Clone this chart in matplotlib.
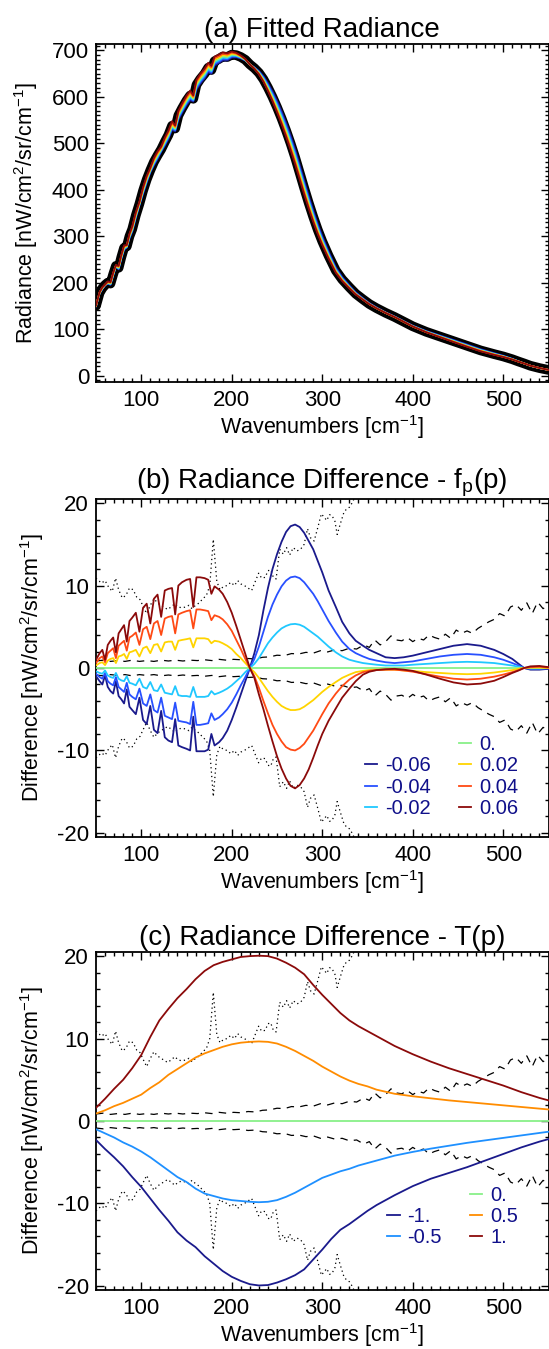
import numpy as np
import matplotlib
matplotlib.use('Agg')
import matplotlib.pyplot as plt
from matplotlib.ticker import MultipleLocator
from matplotlib.lines import Line2D

plt.rcParams['font.family'] = ['Liberation Sans', 'DejaVu Sans']
plt.rcParams['mathtext.fontset'] = 'custom'
plt.rcParams['mathtext.rm'] = 'Liberation Sans'
plt.rcParams['mathtext.it'] = 'Liberation Sans:italic'
plt.rcParams['mathtext.default'] = 'regular'
plt.rcParams['axes.unicode_minus'] = False

# ---------------- data ----------------
wn = [50, 54, 57, 60, 63, 66, 69, 72, 75, 78, 81, 84, 87, 90, 94, 98, 102, 106, 110, 114,
      118, 122, 126, 130, 134, 137.5, 141, 145, 150, 154, 157.5, 161, 165, 170, 174, 177.5,
      181, 186, 190, 195, 200, 205, 210, 215, 220,
      225, 230, 235, 240, 245, 250, 255, 260, 265, 270, 275, 280, 285, 290, 295, 300, 307,
      315, 322, 330, 337, 345, 352, 360, 370, 380, 390, 400, 415, 430, 445, 460, 475, 490,
      500, 510, 517, 523, 530, 540, 550]

radiance = [150, 178, 188, 195, 200, 198, 218, 236, 232, 255, 275, 278, 300, 315, 345, 370,
            398, 422, 442, 460, 474, 487, 503, 518, 538, 532, 560, 575, 592, 603, 596, 626,
            638, 650, 663, 658, 677, 682, 687, 686, 691, 690, 686, 680, 670,
            662, 652, 638, 620, 600, 578, 554, 528, 500, 470, 437, 404, 372, 342, 314, 289,
            258, 226, 207, 190, 176, 164, 154, 145, 135, 126, 116, 106, 94, 84, 74, 64, 54,
            46, 41, 35, 30, 26, 21, 16, 12]

fp_labels = ['-0.06', '-0.04', '-0.02', '0.', '0.02', '0.04', '0.06']
fp_m006 = [-1.0, -1.6, -2.0, -0.9, -2.3, -2.8, -3.1, -1.6, -3.4, -3.8, -4.3, -2.6, -4.7, -5.1,
           -5.6, -3.6, -6.3, -6.8, -4.6, -7.5, -7.9, -5.2, -8.4, -8.8, -9.0, -6.2, -9.4, -9.6,
           -9.8, -10.0, -5.9, -10.1, -10.1, -10.1, -9.9, -8.0, -9.4, -9.0, -8.5, -7.6, -6.3,
           -4.8, -3.2, -1.6, 0.0,
           1.8, 4.0, 7.0, 9.7, 12.0, 13.8, 15.3, 16.5, 17.2, 17.4, 17.1, 16.4, 15.4, 14.4,
           13.0, 11.6, 9.4, 7.4, 5.6, 4.2, 3.3, 2.7, 2.2, 1.8, 1.3, 1.2, 1.3, 1.5, 1.9, 2.3,
           2.7, 2.9, 2.7, 2.2, 1.7, 1.1, 0.5, 0.0, -0.2, -0.2, -0.1]
fp_m004 = [-0.7, -1.1, -1.3, -0.6, -1.6, -1.9, -2.1, -1.1, -2.3, -2.6, -2.9, -1.8, -3.2, -3.5,
           -3.8, -2.5, -4.3, -4.6, -3.2, -5.1, -5.4, -3.6, -5.8, -6.0, -6.2, -4.2, -6.4, -6.5,
           -6.6, -6.8, -4.1, -6.9, -6.9, -6.8, -6.7, -5.5, -6.3, -6.0, -5.6, -5.0, -4.2,
           -3.2, -2.1, -1.1, 0.0,
           1.1, 2.6, 4.4, 6.2, 7.7, 8.9, 9.9, 10.6, 11.0, 11.1, 10.9, 10.4, 9.7, 9.0, 8.1,
           7.1, 5.7, 4.3, 3.2, 2.3, 1.8, 1.4, 1.1, 0.9, 0.7, 0.6, 0.7, 0.8, 1.1, 1.4, 1.6,
           1.7, 1.6, 1.3, 1.0, 0.6, 0.3, 0.0, -0.1, -0.1, -0.05]
fp_m002 = [-0.4, -0.6, -0.7, -0.3, -0.9, -1.1, -1.2, -0.6, -1.3, -1.5, -1.6, -1.0, -1.8, -1.9,
           -2.1, -1.3, -2.3, -2.5, -1.7, -2.7, -2.8, -2.0, -3.0, -3.1, -3.2, -2.2, -3.3, -3.4,
           -3.4, -3.5, -2.3, -3.5, -3.5, -3.5, -3.4, -2.8, -3.2, -3.0, -2.8, -2.5, -2.1,
           -1.6, -1.1, -0.5, 0.0,
           0.5, 1.2, 2.1, 3.0, 3.7, 4.3, 4.8, 5.1, 5.3, 5.35, 5.25, 5.0, 4.6, 4.2, 3.8, 3.3,
           2.6, 1.9, 1.4, 1.0, 0.8, 0.6, 0.5, 0.4, 0.3, 0.3, 0.3, 0.4, 0.5, 0.6, 0.7, 0.75,
           0.7, 0.6, 0.45, 0.3, 0.15, 0.0, -0.05, -0.05, 0.0]
fp_0 = [0.0] * 86
fp_p002 = [0.3, 0.6, 0.7, 0.35, 0.9, 1.1, 1.2, 0.6, 1.4, 1.5, 1.7, 1.1, 1.9, 2.0, 2.2, 1.4,
           2.4, 2.6, 1.8, 2.8, 2.9, 2.0, 3.1, 3.2, 3.2, 2.2, 3.3, 3.4, 3.5, 3.6, 2.5, 3.6,
           3.6, 3.6, 3.5, 3.0, 3.3, 3.2, 3.0, 2.7, 2.3, 1.7, 1.2, 0.6, 0.0,
           -0.5, -1.2, -2.0, -2.8, -3.5, -4.1, -4.6, -4.9, -5.1, -5.1, -5.0, -4.7, -4.3, -3.9,
           -3.4, -2.9, -2.3, -1.7, -1.2, -0.8, -0.5, -0.35, -0.25, -0.2, -0.2, -0.2, -0.3,
           -0.35, -0.5, -0.6, -0.7, -0.75, -0.7, -0.55, -0.4, -0.25, -0.1, 0.0, 0.05, 0.05, 0.0]
fp_p004 = [0.6, 1.2, 1.4, 0.7, 1.8, 2.1, 2.4, 1.2, 2.7, 3.0, 3.3, 2.1, 3.7, 3.9, 4.3, 2.8,
           4.7, 5.0, 3.5, 5.4, 5.7, 4.0, 6.0, 6.2, 6.3, 4.2, 6.5, 6.7, 6.9, 7.0, 4.8, 7.1,
           7.1, 7.0, 6.9, 5.8, 6.4, 6.2, 5.9, 5.3, 4.5, 3.4, 2.3, 1.1, 0.0,
           -1.0, -2.4, -4.0, -5.5, -6.9, -8.0, -8.9, -9.6, -9.9, -10.0, -9.7, -9.2, -8.4,
           -7.6, -6.6, -5.6, -4.3, -3.1, -2.2, -1.4, -0.9, -0.5, -0.35, -0.25, -0.2, -0.2,
           -0.3, -0.45, -0.75, -1.05, -1.3, -1.4, -1.3, -1.05, -0.8, -0.5, -0.25, 0.0, 0.1,
           0.15, 0.05]
fp_p006 = [1.0, 1.8, 2.2, 1.0, 2.8, 3.3, 3.7, 1.9, 4.2, 4.7, 5.2, 3.2, 5.7, 6.1, 6.7, 4.4,
           7.3, 7.8, 5.4, 8.4, 8.9, 6.2, 9.4, 9.6, 9.7, 6.5, 10.0, 10.4, 10.7, 10.8, 7.4,
           11.0, 11.0, 10.9, 10.7, 9.0, 9.9, 9.5, 9.0, 8.0, 6.7, 5.1, 3.4, 1.7, 0.0,
           -1.2, -3.2, -5.0, -7.0, -8.9, -10.7, -12.2, -13.4, -14.3, -14.6, -14.2, -13.4,
           -12.3, -10.9, -9.4, -8.0, -6.4, -4.9, -3.6, -2.5, -1.6, -0.8, -0.45, -0.25, -0.15,
           -0.1, -0.2, -0.35, -0.8, -1.3, -1.75, -2.0, -1.9, -1.55, -1.1, -0.6, -0.3, 0.0,
           0.2, 0.25, 0.1]

wn_c = [50, 60, 70, 80, 90, 100, 110, 120, 130, 140, 150, 160, 170, 180, 190, 200, 210, 220,
        230, 240, 250, 260, 270, 280, 290, 300, 310, 320, 330, 340, 350, 360, 380, 400, 420,
        440, 460, 480, 500, 520, 540, 550]
t_labels = ['-1.', '-0.5', '0.', '0.5', '1.']
t_m1 = [-2.3, -3.4, -4.4, -5.5, -6.8, -8.0, -9.4, -10.8, -12.1, -13.5, -14.5, -15.3, -16.4,
        -17.3, -18.2, -18.9, -19.4, -19.8, -19.95, -19.9, -19.6, -19.2, -18.7, -18.0, -16.8,
        -15.6, -14.3, -13.2, -12.5, -11.7, -10.9, -10.2, -9.0, -7.9, -7.0, -6.3, -5.6, -4.8,
        -4.0, -3.2, -2.5, -2.2]
t_m05 = [-1.0, -1.5, -2.0, -2.6, -3.1, -3.7, -4.4, -5.2, -6.0, -6.8, -7.4, -8.2, -8.8, -9.1,
         -9.4, -9.6, -9.7, -9.8, -9.85, -9.8, -9.6, -9.2, -8.7, -8.1, -7.5, -6.9, -6.5, -6.1,
         -5.8, -5.4, -5.1, -4.8, -4.2, -3.75, -3.35, -3.0, -2.65, -2.35, -2.05, -1.75, -1.45,
         -1.3]
t_0 = [0.0] * 42
t_p05 = [0.9, 1.3, 1.8, 2.2, 2.7, 3.2, 4.0, 4.7, 5.6, 6.3, 7.0, 7.7, 8.2, 8.6, 9.0, 9.3, 9.5,
         9.6, 9.65, 9.6, 9.4, 9.0, 8.5, 7.9, 7.3, 6.6, 6.0, 5.4, 4.9, 4.5, 4.2, 3.8, 3.3, 3.0,
         2.75, 2.5, 2.3, 2.1, 1.9, 1.7, 1.5, 1.4]
t_p1 = [1.6, 2.7, 3.9, 5.0, 6.4, 8.0, 10.2, 12.2, 13.6, 14.9, 16.0, 17.2, 18.2, 18.9, 19.3,
        19.6, 19.9, 20.0, 20.05, 20.0, 19.7, 19.2, 18.6, 17.8, 16.5, 15.3, 14.2, 13.1, 12.2,
        11.5, 10.9, 10.3, 9.1, 8.1, 7.2, 6.4, 5.7, 5.0, 4.3, 3.5, 2.8, 2.5]

wn_dot = [50, 52, 56, 60, 64, 68, 71.6, 75, 79, 83, 87, 91, 95, 98.6, 102, 106, 110, 114, 118,
          121.7, 125, 129, 133, 137, 141, 145, 149, 152.6, 156, 160, 164, 168, 172, 175.7,
          179.6, 183.5, 187, 191, 195, 199, 203, 206.6, 210, 214, 218, 222, 226, 229.7, 233,
          237, 240, 243, 246, 249, 253, 257, 260.6, 264, 268, 272, 276, 280, 283.7, 287, 291,
          295, 299, 302, 305, 308, 310.7, 314, 316.5, 320, 324, 327, 330, 334, 338, 345]
noise_dot = [10.9, 10.7, 10.3, 10.6, 9.8, 9.3, 10.9, 9.5, 8.5, 8.8, 9.7, 9.5, 8.6, 8.3, 7.5,
             6.6, 7.6, 8.4, 7.9, 7.6, 7.4, 7.1, 7.4, 7.8, 7.4, 7.3, 7.4, 7.6, 7.2, 7.6, 7.9,
             8.4, 8.8, 10.0, 15.6, 10.5, 9.5, 9.9, 10.0, 10.4, 10.0, 10.6, 10.2, 10.0, 9.7,
             9.4, 10.5, 11.5, 10.9, 11.0, 11.8, 11.9, 11.0, 10.8, 14.4, 13.8, 14.6, 13.7,
             14.6, 14.2, 14.4, 15.0, 16.9, 15.8, 15.4, 17.0, 18.7, 18.3, 17.9, 18.6, 18.5,
             17.8, 16.2, 17.5, 18.9, 19.3, 19.5, 20.2, 21.5, 23.0]

wn_dash = [50, 58, 66, 74, 82, 90, 98, 106, 114, 122, 130, 138, 146, 154, 162, 170, 178, 186,
           194, 202, 210, 218, 226, 234, 242, 250, 258, 266, 274, 282, 290, 298, 306, 314,
           322, 330, 338, 346, 352, 358, 364, 370, 376, 382, 388, 394, 400, 406, 412, 418,
           424, 430, 436, 442, 448, 454, 460, 466, 472, 478, 484, 490, 496, 502, 508, 514,
           520, 526, 532, 538, 544, 550]
noise_dash = [0.85, 0.95, 0.8, 0.9, 0.8, 0.95, 0.8, 0.9, 0.8, 0.95, 0.85, 0.95, 0.85, 0.95,
              0.9, 1.0, 0.9, 1.05, 0.95, 1.05, 1.0, 1.15, 1.1, 1.3, 1.35, 1.55, 1.5, 1.75,
              1.7, 1.9, 1.8, 2.1, 1.95, 2.2, 2.1, 2.4, 2.3, 2.8, 2.5, 3.4, 2.8, 3.2, 3.9, 3.4,
              3.3, 3.7, 3.2, 3.6, 3.4, 4.0, 3.7, 3.5, 4.1, 3.6, 4.6, 4.2, 4.5, 4.2, 4.8, 5.2,
              5.6, 5.9, 6.6, 6.3, 7.4, 7.7, 7.0, 7.9, 6.6, 8.0, 7.2, 7.6]

fp_colors = ['#1a1a8c', '#2850ff', '#20c8ff', '#88f088', '#ffd400', '#ff4a14', '#8b0a0a']
t_colors = ['#1a1a8c', '#1e90ff', '#88f088', '#ff8c00', '#8b0a0a']
legend_text_color = '#10108a'

# ---------------- layout ----------------
W, H = 549, 1349
fig = plt.figure(figsize=(W / 100, H / 100), dpi=100)


def rect(top, bottom, left=96, right=548.5):
    return [left / W, 1 - bottom / H, (right - left) / W, (bottom - top) / H]


axa = fig.add_axes(rect(44, 382))
axb = fig.add_axes(rect(499, 837))
axc = fig.add_axes(rect(952, 1290))


def style(ax, ymaj, ymin, ylabel, title, ylab_x):
    ax.set_xlim(50, 550)
    ax.xaxis.set_major_locator(MultipleLocator(100))
    ax.xaxis.set_minor_locator(MultipleLocator(10))
    ax.yaxis.set_major_locator(MultipleLocator(ymaj))
    ax.yaxis.set_minor_locator(MultipleLocator(ymin))
    ax.tick_params(which='both', direction='in', top=True, right=True,
                   labelsize=16, width=1.0, colors='black')
    ax.tick_params(which='major', length=6)
    ax.tick_params(which='minor', length=3)
    ax.tick_params(axis='x', pad=6)
    ax.tick_params(axis='y', pad=5)
    for s in ax.spines.values():
        s.set_linewidth(1.3)
    ax.set_xlabel('Wavenumbers [cm$^{-1}$]', fontsize=15.5, labelpad=1)
    ax.set_ylabel(ylabel, fontsize=15.5)
    ax.yaxis.set_label_coords(ylab_x, 0.5)
    ax.set_title(title, fontsize=20, pad=5)


# ---------------- panel (a) ----------------
axa.plot(wn, radiance, color='black', lw=7.0, solid_capstyle='round', zorder=2)
fp_series = [fp_m006, fp_m004, fp_m002, fp_0, fp_p002, fp_p004, fp_p006]
for vals, col in zip(fp_series, fp_colors):
    fitted = np.array(radiance) + np.array(vals)
    axa.plot(wn, fitted, color=col, lw=1.3, zorder=3)
axa.set_ylim(-14, 714)
style(axa, 100, 10, 'Radiance [nW/cm$^2$/sr/cm$^{-1}$]', '(a) Fitted Radiance', -0.123)


def noise(ax):
    nd = np.array(noise_dot)
    nds = np.array(noise_dash)
    ax.plot(wn_dot, nd, color='black', lw=0.9, ls=(0, (1, 2.5)), zorder=2)
    ax.plot(wn_dot, -nd, color='black', lw=0.9, ls=(0, (1, 2.5)), zorder=2)
    ax.plot(wn_dash, nds, color='black', lw=0.9, ls=(0, (6, 5)), zorder=2)
    ax.plot(wn_dash, -nds, color='black', lw=0.9, ls=(0, (6, 5)), zorder=2)


# ---------------- panel (b) ----------------
noise(axb)
hb = []
for vals, col, lab in zip(fp_series, fp_colors, fp_labels):
    h, = axb.plot(wn, vals, color=col, lw=1.3, label=lab, zorder=3)
    hb.append(h)
axb.set_ylim(-20.5, 20.5)
style(axb, 10, 2, 'Difference [nW/cm$^2$/sr/cm$^{-1}$]', '(b) Radiance Difference - f$_p$(p)',
      -0.11)
blank = Line2D([], [], color='none')
handles_b = [blank, hb[0], hb[1], hb[2], hb[3], hb[4], hb[5], hb[6]]
labels_b = [' ', fp_labels[0], fp_labels[1], fp_labels[2], fp_labels[3], fp_labels[4],
            fp_labels[5], fp_labels[6]]
leg = axb.legend(handles_b, labels_b, ncol=2, loc='lower right', frameon=False, fontsize=14.5,
                 handlelength=0.6, handletextpad=0.4, columnspacing=1.4, labelspacing=0.12,
                 borderaxespad=0.2, bbox_to_anchor=(0.96, 0.02))
for t in leg.get_texts():
    t.set_color(legend_text_color)

# ---------------- panel (c) ----------------
noise(axc)
t_series = [t_m1, t_m05, t_0, t_p05, t_p1]
hc = []
for vals, col, lab in zip(t_series, t_colors, t_labels):
    h, = axc.plot(wn_c, vals, color=col, lw=1.3, label=lab, zorder=3)
    hc.append(h)
axc.set_ylim(-20.5, 20.5)
style(axc, 10, 2, 'Difference [nW/cm$^2$/sr/cm$^{-1}$]', '(c) Radiance Difference - T(p)',
      -0.11)
handles_c = [blank, hc[0], hc[1], hc[2], hc[3], hc[4]]
labels_c = [' ', t_labels[0], t_labels[1], t_labels[2], t_labels[3], t_labels[4]]
leg = axc.legend(handles_c, labels_c, ncol=2, loc='lower right', frameon=False, fontsize=14.5,
                 handlelength=0.6, handletextpad=0.4, columnspacing=1.4, labelspacing=0.12,
                 borderaxespad=0.2, bbox_to_anchor=(0.96, 0.09))
for t in leg.get_texts():
    t.set_color(legend_text_color)

fig.savefig('out.png', dpi=100)
